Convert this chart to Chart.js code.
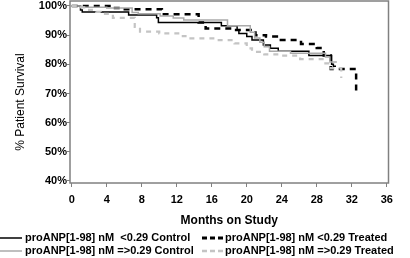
<!DOCTYPE html>
<html>
<head>
<meta charset="utf-8">
<script src="https://cdn.jsdelivr.net/npm/chart.js@4.4.0/dist/chart.umd.min.js"></script>
<style>
html, body { margin: 0; padding: 0; background: #fff; }
#wrap { position: relative; width: 410px; height: 258px; overflow: hidden; font-family: "Liberation Sans", Arial, sans-serif; }
#chart { position: absolute; left: 0; top: 0; }
#ytitle { position: absolute; left: -40px; top: 95px; width: 120px; height: 14px; line-height: 14px; font-size: 12px; text-align: center; transform: rotate(-90deg); color: #000; white-space: nowrap; }
.leg { position: absolute; height: 13px; width: 210px; font-size: 11px; font-weight: bold; line-height: 13px; color: #000; white-space: pre; }
.leg svg { position: absolute; left: 0; top: 0; }
.leg span { position: absolute; top: 0; }
</style>
</head>
<body>
<div id="wrap">
  <canvas id="chart" width="410" height="232"></canvas>
  <div id="ytitle">% Patient Survival</div>
  <div class="leg" style="left:0;top:231px">
    <svg width="22" height="13"><line x1="0" y1="7" x2="22" y2="7" stroke="#000" stroke-width="1.5"/></svg>
    <span style="left:25px">proANP[1-98] nM  &lt;0.29 Control</span>
  </div>
  <div class="leg" style="left:201px;top:231px">
    <svg width="22" height="13"><line x1="1" y1="7" x2="22" y2="7" stroke="#000" stroke-width="3" stroke-dasharray="5 3"/></svg>
    <span style="left:24px">proANP[1-98] nM &lt;0.29 Treated</span>
  </div>
  <div class="leg" style="left:0;top:243.5px">
    <svg width="22" height="13"><line x1="0" y1="7" x2="22" y2="7" stroke="#aaa" stroke-width="1.5"/></svg>
    <span style="left:25px">proANP[1-98] nM =&gt;0.29 Control</span>
  </div>
  <div class="leg" style="left:201px;top:243.5px">
    <svg width="22" height="13"><line x1="1" y1="7" x2="22" y2="7" stroke="#c4c4c4" stroke-width="2.5" stroke-dasharray="5 3"/></svg>
    <span style="left:24px">proANP[1-98] nM =&gt;0.29 Treated</span>
  </div>
</div>
<script>
// months / % survival (step points: survival drops at that month)
const ctrlLowMonths = [0, 1.0, 1.2, 6.5, 9.7, 9.9, 17.1, 18.9, 19.1, 20.0, 20.6, 21.9, 22.7, 23.6, 27.1, 29.7, 29.9, 30.2];
const ctrlLowSurv   = [100, 98.6, 97.9, 96.9, 96.0, 94.3, 93.2, 91.8, 90.6, 89.5, 88.3, 86.6, 85.5, 84.5, 83.0, 80.0, 79.3, 79.3];

const trtLowMonths = [0, 4.5, 5.5, 10.3, 14.5, 15.3, 18.5, 21.0, 22.2, 23.6, 26.2, 28.0, 28.8, 29.6, 32.5];
const trtLowSurv   = [100, 99.3, 98.9, 97.2, 94.3, 92.3, 91.8, 90.0, 89.5, 88.3, 87.0, 85.6, 83.0, 78.4, 70.5];

const ctrlHighMonths = [0, 1.0, 4.0, 6.9, 7.6, 10.1, 11.6, 12.8, 17.8, 20.4, 20.9, 21.5, 22.0, 22.6, 25.0, 29.0, 29.5, 30.3];
const ctrlHighSurv   = [100, 99.6, 99.3, 97.8, 97.3, 96.6, 95.9, 95.2, 93.2, 91.0, 89.0, 87.6, 86.0, 84.5, 83.8, 82.5, 80.8, 80.8];

const trtHighMonths = [0, 1.0, 1.8, 2.8, 3.3, 4.7, 7.2, 7.8, 10.0, 12.3, 13.0, 16.5, 18.6, 20.0, 20.6, 22.0, 24.0, 26.1, 28.8, 29.6, 30.8];
const trtHighSurv   = [100, 99.5, 98.7, 98.0, 97.3, 95.9, 92.8, 91.2, 90.6, 89.7, 88.9, 88.3, 87.2, 85.5, 84.3, 83.4, 83.0, 81.8, 80.3, 78.6, 75.3];

const xTickValues = [0, 4, 8, 12, 16, 20, 24, 28, 32, 36];
const yTickValues = [40, 50, 60, 70, 80, 90, 100];

function toPoints(months, surv) {
    return months.map((m, i) => ({ x: m, y: surv[i] }));
}

const tickFont = { family: '"Liberation Sans", Arial, sans-serif', size: 11, weight: 'bold' };

const frameBox = {
    id: 'frameBox',
    afterDraw(chart) {
        const { ctx, chartArea: a } = chart;
        ctx.save();
        ctx.strokeStyle = '#808080';
        ctx.lineWidth = 1.5;
        ctx.strokeRect(a.left, a.top, a.right - a.left, a.bottom - a.top);
        ctx.restore();
    }
};

const ctx = document.getElementById('chart').getContext('2d');
new Chart(ctx, {
    type: 'line',
    data: {
        datasets: [
            {
                label: 'proANP[1-98] nM =>0.29 Treated',
                data: toPoints(trtHighMonths, trtHighSurv),
                borderColor: '#c4c4c4',
                borderWidth: 2.2,
                borderDash: [5, 5],
            },
            {
                label: 'proANP[1-98] nM =>0.29 Control',
                data: toPoints(ctrlHighMonths, ctrlHighSurv),
                borderColor: '#aaaaaa',
                borderWidth: 1.5,
            },
            {
                label: 'proANP[1-98] nM  <0.29 Control',
                data: toPoints(ctrlLowMonths, ctrlLowSurv),
                borderColor: '#000',
                borderWidth: 1.5,
            },
            {
                label: 'proANP[1-98] nM <0.29 Treated',
                data: toPoints(trtLowMonths, trtLowSurv),
                borderColor: '#000',
                borderWidth: 2.5,
                borderDash: [6, 5],
            },
        ]
    },
    options: {
        responsive: false,
        animation: false,
        elements: {
            line: { stepped: true, fill: false, borderCapStyle: 'butt' },
            point: { radius: 0 }
        },
        layout: { padding: { top: 1, right: 21.5, left: 0, bottom: 0 } },
        plugins: {
            legend: { display: false },
            tooltip: { enabled: false }
        },
        scales: {
            x: {
                type: 'linear',
                min: -0.2,
                max: 36.2,
                afterBuildTicks: (scale) => { scale.ticks = xTickValues.map(v => ({ value: v })); },
                afterFit: (scale) => { scale.height = 49; scale.paddingLeft = 0; scale.paddingRight = 0; },
                border: { display: false },
                grid: { drawOnChartArea: false, drawTicks: true, tickLength: 4, color: '#808080', lineWidth: 1 },
                ticks: { color: '#000', font: tickFont, padding: 6, maxRotation: 0 },
                title: {
                    display: true,
                    text: 'Months on Study',
                    color: '#000',
                    font: { family: '"Liberation Sans", Arial, sans-serif', size: 12, weight: 'bold' },
                    padding: { top: 0, bottom: 4 }
                }
            },
            y: {
                min: 39.31,
                max: 101.71,
                afterBuildTicks: (scale) => { scale.ticks = yTickValues.map(v => ({ value: v })); },
                afterFit: (scale) => { scale.width = 70; scale.paddingTop = 0; scale.paddingBottom = 0; },
                border: { display: false },
                grid: { drawOnChartArea: false, drawTicks: true, tickLength: 3, color: '#808080', lineWidth: 1 },
                ticks: { color: '#000', font: tickFont, padding: 0, callback: (v) => v + '%' }
            }
        }
    },
    plugins: [frameBox]
});
</script>
</body>
</html>
